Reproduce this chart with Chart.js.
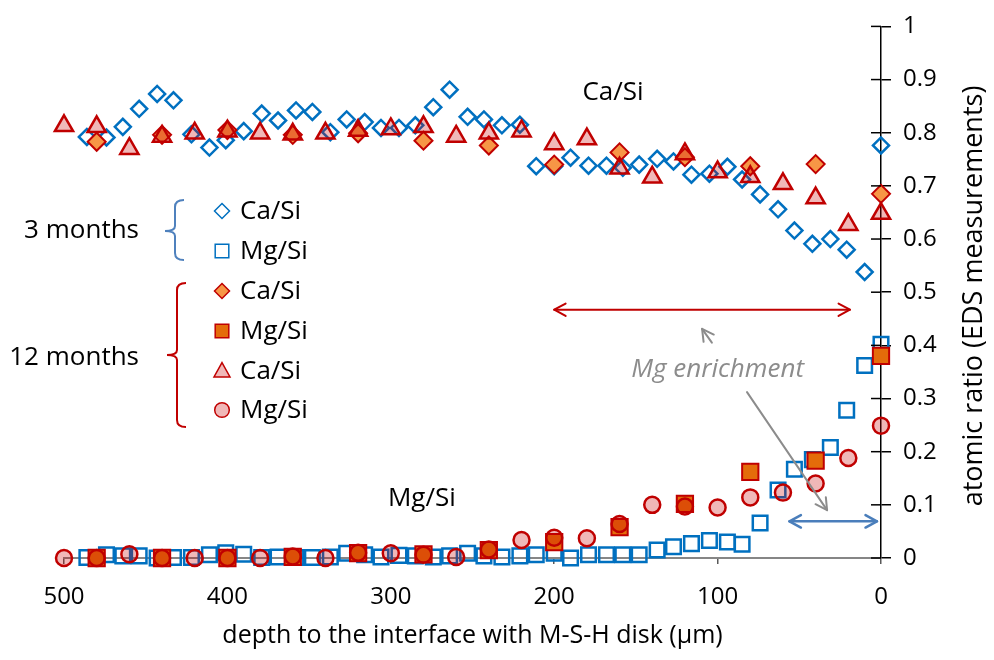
<!DOCTYPE html>
<html><head><meta charset="utf-8">
<script src="https://cdn.jsdelivr.net/npm/chart.js@4.4.0/dist/chart.umd.min.js"></script>
<style>html,body{margin:0;padding:0;background:#fff;}</style>
</head><body>
<canvas id="c" width="994" height="660"></canvas>
<script>
const FONT = "'Open Sans', 'Noto Sans', sans-serif";

// ---- data (depth in µm, atomic ratios) ----
const depth3m = [486, 474, 464, 454, 443, 433, 422, 411, 401, 390, 379, 369, 358, 348, 337, 327, 316, 306, 295, 285, 274, 264, 253, 243, 232, 221, 211, 200, 190, 179, 168, 158, 148, 137, 127, 116, 105, 94, 85, 74, 63, 53, 42, 31, 21, 10, 0];
const caSi3m = [0.792, 0.791, 0.811, 0.845, 0.873, 0.861, 0.797, 0.772, 0.786, 0.803, 0.836, 0.823, 0.842, 0.839, 0.801, 0.825, 0.820, 0.809, 0.809, 0.814, 0.848, 0.881, 0.830, 0.825, 0.814, 0.815, 0.737, 0.737, 0.753, 0.738, 0.738, 0.734, 0.740, 0.751, 0.746, 0.721, 0.723, 0.736, 0.712, 0.684, 0.656, 0.616, 0.591, 0.600, 0.580, 0.538, 0.776];
const mgSi3m = [0.001, 0.006, 0.004, 0.004, 0.000, 0.001, 0.001, 0.006, 0.010, 0.007, 0.001, 0.002, 0.001, 0.001, 0.002, 0.009, 0.006, 0.002, 0.005, 0.004, 0.002, 0.004, 0.009, 0.004, 0.002, 0.004, 0.006, 0.009, 0.000, 0.006, 0.006, 0.006, 0.006, 0.015, 0.021, 0.027, 0.033, 0.030, 0.026, 0.066, 0.128, 0.167, 0.185, 0.208, 0.278, 0.362, 0.402];

const depth12a = [480, 440, 400, 360, 320, 280, 240, 200, 160, 120, 80, 40, 0];
const caSi12a = [0.783, 0.796, 0.805, 0.796, 0.799, 0.785, 0.776, 0.740, 0.763, 0.754, 0.737, 0.741, 0.685];
const mgSi12a = [0.000, 0.000, 0.000, 0.002, 0.009, 0.007, 0.015, 0.030, 0.058, 0.102, 0.162, 0.183, 0.380];

const depth12b = [500, 480, 460, 440, 420, 400, 380, 360, 340, 320, 300, 280, 260, 240, 220, 200, 180, 160, 140, 120, 100, 80, 60, 40, 20, 0];
const caSi12b = [0.813, 0.811, 0.770, 0.793, 0.799, 0.803, 0.799, 0.797, 0.799, 0.804, 0.807, 0.811, 0.793, 0.799, 0.803, 0.779, 0.788, 0.733, 0.716, 0.760, 0.726, 0.717, 0.704, 0.677, 0.627, 0.648];
const mgSi12b = [0.000, 0.000, 0.007, 0.000, 0.000, 0.000, 0.000, 0.003, 0.000, 0.010, 0.009, 0.006, 0.002, 0.016, 0.034, 0.038, 0.037, 0.064, 0.100, 0.097, 0.095, 0.114, 0.123, 0.140, 0.188, 0.249];

const xTicks = [500, 400, 300, 200, 100, 0];
const yTicks = [0, 0.1, 0.2, 0.3, 0.4, 0.5, 0.6, 0.7, 0.8, 0.9, 1];

const BLUE = '#0070c0', RED = '#c00000', ORANGE_L = '#f79646', ORANGE_D = '#e46c0a', PINK = 'rgba(200,0,0,0.28)';

function pts(xs, ys) { return xs.map((x, i) => ({ x: x, y: ys[i] })); }

// ---- shapes for legend ----
function shape(ctx, kind, x, y, s, fill, stroke, lw) {
  ctx.save();
  ctx.beginPath();
  if (kind === 'diamond') { ctx.moveTo(x, y - s); ctx.lineTo(x + s, y); ctx.lineTo(x, y + s); ctx.lineTo(x - s, y); ctx.closePath(); }
  else if (kind === 'square') { ctx.rect(x - s, y - s, 2 * s, 2 * s); }
  else if (kind === 'triangle') { ctx.moveTo(x, y - s * 1.05); ctx.lineTo(x + s, y + s * 0.75); ctx.lineTo(x - s, y + s * 0.75); ctx.closePath(); }
  else { ctx.arc(x, y, s, 0, Math.PI * 2); }
  if (fill) { ctx.fillStyle = fill; ctx.fill(); }
  ctx.lineWidth = lw; ctx.strokeStyle = stroke; ctx.stroke();
  ctx.restore();
}
function arrowHead(ctx, fx, fy, tx, ty, len, ang) {
  const a = Math.atan2(ty - fy, tx - fx);
  ctx.beginPath();
  ctx.moveTo(tx - len * Math.cos(a - ang), ty - len * Math.sin(a - ang));
  ctx.lineTo(tx, ty);
  ctx.lineTo(tx - len * Math.cos(a + ang), ty - len * Math.sin(a + ang));
  ctx.stroke();
}
function arrow(ctx, x1, y1, x2, y2, color, lw, both) {
  ctx.save();
  ctx.strokeStyle = color; ctx.lineWidth = lw; ctx.lineCap = 'round'; ctx.lineJoin = 'round';
  ctx.beginPath(); ctx.moveTo(x1, y1); ctx.lineTo(x2, y2); ctx.stroke();
  arrowHead(ctx, x1, y1, x2, y2, 13, 0.5);
  if (both) arrowHead(ctx, x2, y2, x1, y1, 13, 0.5);
  ctx.restore();
}
function bracket(ctx, x, top, mid, bot, color) {
  ctx.save();
  ctx.strokeStyle = color; ctx.lineWidth = 2;
  ctx.beginPath();
  ctx.moveTo(x + 9, top);
  ctx.quadraticCurveTo(x, top, x, top + 7);
  ctx.lineTo(x, mid - 5);
  ctx.quadraticCurveTo(x, mid, x - 10, mid);
  ctx.quadraticCurveTo(x, mid, x, mid + 5);
  ctx.lineTo(x, bot - 7);
  ctx.quadraticCurveTo(x, bot, x + 9, bot);
  ctx.stroke();
  ctx.restore();
}

const overlay = {
  id: 'overlay',
  afterDraw(chart) {
    const ctx = chart.ctx;
    const xs = chart.scales.x, ys = chart.scales.y;
    const X = v => xs.getPixelForValue(v), Y = v => ys.getPixelForValue(v);
    // inner half of the y tick marks
    ctx.save();
    ctx.strokeStyle = '#000'; ctx.lineWidth = 1.5;
    yTicks.forEach(t => { const py = Y(t); ctx.beginPath(); ctx.moveTo(xs.right - 10, py); ctx.lineTo(xs.right, py); ctx.stroke(); });
    ctx.restore();
    // y axis title (reads bottom to top)
    ctx.save();
    ctx.font = '27px ' + FONT; ctx.fillStyle = '#000'; ctx.textAlign = 'center'; ctx.textBaseline = 'middle';
    ctx.translate(974, 296); ctx.rotate(-Math.PI / 2);
    ctx.fillText('atomic ratio (EDS measurements)', 0, 0);
    ctx.restore();
    // text labels
    ctx.save();
    ctx.font = '26px ' + FONT; ctx.fillStyle = '#000'; ctx.textAlign = 'center'; ctx.textBaseline = 'middle';
    ctx.fillText('Ca/Si', X(164), Y(0.875));
    ctx.fillText('Mg/Si', X(281), Y(0.112));
    ctx.font = 'italic 26px ' + FONT; ctx.fillStyle = '#8c8c8c';
    ctx.fillText('Mg enrichment', X(100), Y(0.355));
    ctx.restore();
    // arrows
    arrow(ctx, X(200), Y(0.467), X(19), Y(0.467), RED, 2, true);
    arrow(ctx, X(103.5), Y(0.405), X(109.5), Y(0.431), '#8c8c8c', 2, false);
    arrow(ctx, X(82), Y(0.312), X(33), Y(0.09), '#8c8c8c', 2, false);
    arrow(ctx, X(56), Y(0.069), X(2.5), Y(0.069), '#4a7ebb', 2.5, true);
    // legend
    ctx.save();
    ctx.font = '26px ' + FONT; ctx.fillStyle = '#000'; ctx.textBaseline = 'middle';
    ctx.textAlign = 'right';
    ctx.fillText('3 months', 139, 231);
    ctx.fillText('12 months', 139, 358);
    ctx.textAlign = 'left';
    const rows = [
      ['diamond', 211, null, BLUE, 'Ca/Si', 7.5],
      ['square', 251, null, BLUE, 'Mg/Si', 6.8],
      ['diamond', 291, ORANGE_L, RED, 'Ca/Si', 7.5],
      ['square', 331, ORANGE_D, RED, 'Mg/Si', 6.8],
      ['triangle', 371, PINK, RED, 'Ca/Si', 8],
      ['circle', 410, PINK, RED, 'Mg/Si', 7.3]
    ];
    rows.forEach(r => {
      shape(ctx, r[0], 222, r[1], r[5], r[2], r[3], 1.5);
      ctx.fillText(r[4], 240, r[1] + 1);
    });
    ctx.restore();
    bracket(ctx, 175, 200, 231, 260, '#4f81bd');
    bracket(ctx, 177, 283, 355, 427, RED);
  }
};

new Chart(document.getElementById('c'), {
  type: 'scatter',
  data: {
    datasets: [
      { label: '3 months Ca/Si', data: pts(depth3m, caSi3m), pointStyle: 'rectRot', pointRadius: 8, borderWidth: 2.5, borderColor: BLUE, backgroundColor: 'rgba(255,255,255,0)', order: 6, clip: false },
      { label: '3 months Mg/Si', data: pts(depth3m, mgSi3m), pointStyle: 'rect', pointRadius: 10.3, borderWidth: 2.5, borderColor: BLUE, backgroundColor: 'rgba(255,255,255,0)', order: 5, clip: false },
      { label: '12 months Ca/Si', data: pts(depth12a, caSi12a), pointStyle: 'rectRot', pointRadius: 9, borderWidth: 2, borderColor: RED, backgroundColor: ORANGE_L, order: 4, clip: false },
      { label: '12 months Mg/Si', data: pts(depth12a, mgSi12a), pointStyle: 'rect', pointRadius: 11.5, borderWidth: 2, borderColor: RED, backgroundColor: ORANGE_D, order: 3, clip: false },
      { label: '12 months Ca/Si (b)', data: pts(depth12b, caSi12b), pointStyle: 'triangle', pointRadius: 10.5, borderWidth: 2.5, borderColor: RED, backgroundColor: PINK, order: 2, clip: false },
      { label: '12 months Mg/Si (b)', data: pts(depth12b, mgSi12b), pointStyle: 'circle', pointRadius: 8, borderWidth: 2.5, borderColor: RED, backgroundColor: PINK, order: 1, clip: false }
    ]
  },
  options: {
    responsive: false, animation: false, events: [],
    layout: { padding: { left: 64, top: 20, right: 0, bottom: 0 }, autoPadding: false },
    plugins: { legend: { display: false }, tooltip: { enabled: false } },
    scales: {
      x: {
        type: 'linear', position: 'bottom', reverse: true, min: 0, max: 500,
        afterBuildTicks(s) { s.ticks = xTicks.map(v => ({ value: v })); },
        ticks: { font: { family: FONT, size: 24 }, color: '#000', padding: 19, maxRotation: 0, callback: v => String(v) },
        grid: { drawOnChartArea: false, drawTicks: true, tickLength: 6, color: '#595959', lineWidth: 1.5 },
        border: { display: true, color: '#868686', width: 2 },
        title: { display: true, text: 'depth to the interface with M-S-H disk (µm)', font: { family: FONT, size: 25 }, color: '#000', padding: { top: 4, bottom: 9 } },
        afterFit(s) { s.height = 102; }
      },
      y: {
        type: 'linear', position: 'right', min: 0, max: 1,
        afterBuildTicks(s) { s.ticks = yTicks.map(v => ({ value: v })); },
        ticks: { font: { family: FONT, size: 24 }, color: '#000', padding: 12, callback: v => String(Math.round(v * 10) / 10) },
        grid: { drawOnChartArea: false, drawTicks: true, tickLength: 10, color: '#000', lineWidth: 1.5 },
        border: { display: true, color: '#000', width: 1.5 },
        afterFit(s) { s.width = 113; }
      }
    }
  },
  plugins: [overlay]
});
</script>
</body></html>
